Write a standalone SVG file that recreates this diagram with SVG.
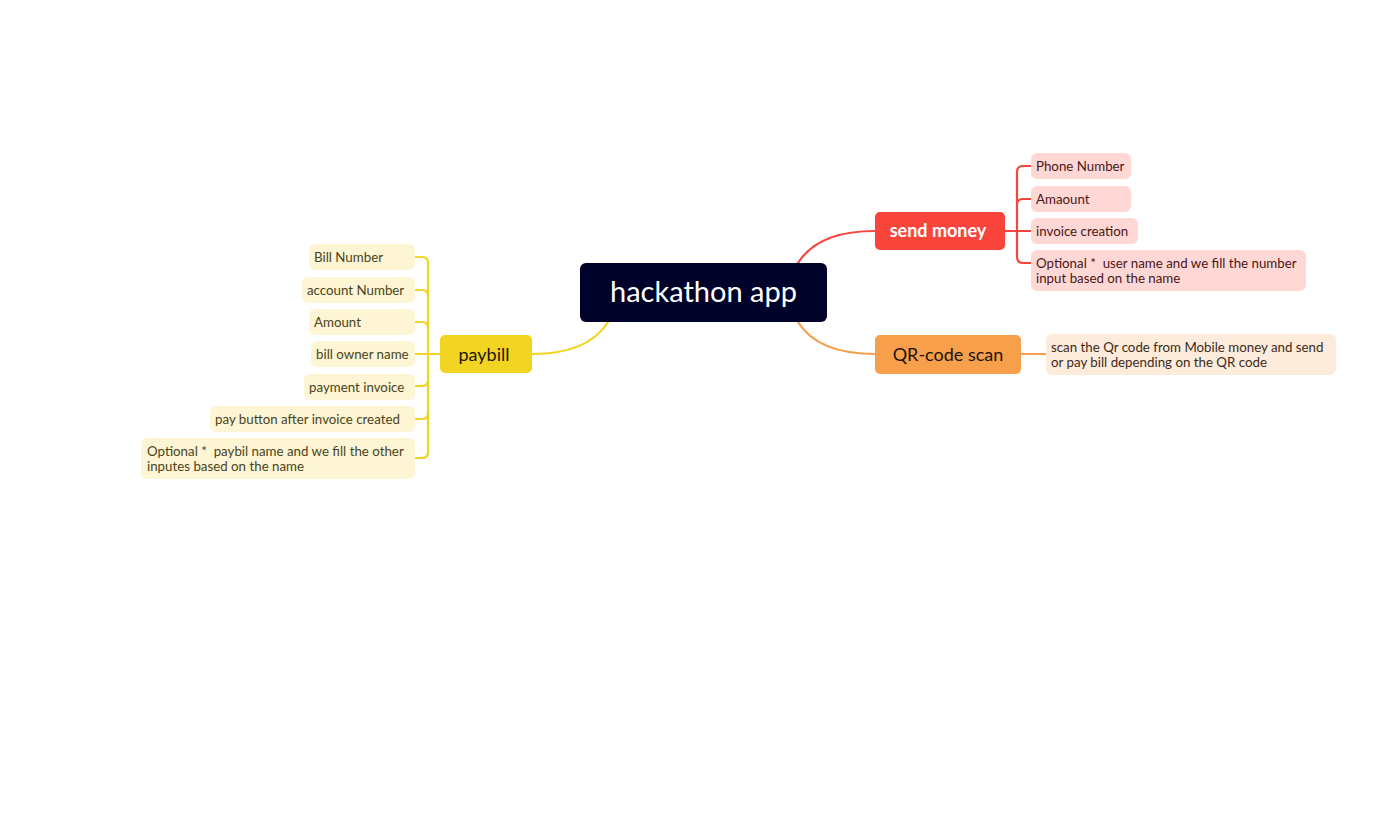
<svg xmlns="http://www.w3.org/2000/svg" width="1376" height="814" viewBox="0 0 1376 814">
<style>
text{font-family:Lato,"Noto Sans","Liberation Sans",sans-serif;white-space:pre}
.c{fill:none;stroke-width:2.2;stroke-linecap:round}
.r{stroke:#F7463E}.o{stroke:#F79E4C}.y{stroke:#F2D523}
.sub{font-size:13.3px}
.rs rect{fill:#FFD8D6}.rs text{fill:#4A1515}
.ys rect{fill:#FDF5D3}.ys text{fill:#4A4320}
.os rect{fill:#FDEBDC}.os text{fill:#3D2A1A}
.b{font-size:18px;text-anchor:middle}
</style>
<rect width="1376" height="814" fill="#fff"/>
<g id="connectors">
<path class="c r" d="M798,263 Q818,231 875,231"/>
<path class="c o" d="M798,322 Q818,354 875,354"/>
<path class="c y" d="M608,322 Q588,354 532,354"/>
<path class="c r" d="M1005,231 H1031 M1031,166 H1023 Q1017,166 1017,172 V257 Q1017,263 1023,263 H1031 M1017,205 Q1017,199 1023,199 H1031"/>
<path class="c o" d="M1021,354 H1046"/>
<path class="c y" d="M440,354 H415 M415,257 H422 Q428,257 428,263 V452 Q428,458 422,458 H415 M415,290 H422 Q428,290 428,296 M415,322 H422 Q428,322 428,328 M415,386 H422 Q428,386 428,380 M415,419 H422 Q428,419 428,413"/>
</g>
<g id="root"><rect x="580" y="263" width="247" height="59" rx="6" fill="#00022A"/><text x="703.5" y="302" font-size="29" fill="#fff" text-anchor="middle">hackathon app</text></g>
<g id="send-money"><rect x="875" y="212" width="130" height="38" rx="5" fill="#F9443C"/><text class="b" x="938" y="237" fill="#fff" font-weight="700" font-size="17">send money</text></g>
<g id="qr-code-scan"><rect x="875" y="335" width="146" height="39" rx="5" fill="#F79F4B"/><text class="b" x="948" y="361" fill="#1A1208">QR-code scan</text></g>
<g id="paybill"><rect x="440" y="335" width="92" height="38" rx="5" fill="#F2D422"/><text class="b" x="484" y="361" fill="#1A1600">paybill</text></g>
<g id="phone-number" class="rs"><rect x="1031" y="153" width="100" height="26" rx="6"/><text class="sub" x="1036" y="171">Phone Number</text></g>
<g id="amaount" class="rs"><rect x="1031" y="186" width="100" height="26" rx="6"/><text class="sub" x="1036" y="204">Amaount</text></g>
<g id="invoice-creation" class="rs"><rect x="1031" y="218" width="107" height="26" rx="6"/><text class="sub" x="1036" y="236">invoice creation</text></g>
<g id="optional-send" class="rs"><rect x="1031" y="250" width="275" height="41" rx="6"/><text class="sub" x="1036" y="268">Optional *  user name and we fill the number</text><text class="sub" x="1036" y="283">input based on the name</text></g>
<g id="qr-detail" class="os"><rect x="1046" y="334" width="290" height="41" rx="6"/><text class="sub" x="1051" y="352">scan the Qr code from Mobile money and send</text><text class="sub" x="1051" y="367">or pay bill depending on the QR code</text></g>
<g id="bill-number" class="ys"><rect x="309" y="244" width="106" height="26" rx="6"/><text class="sub" x="314" y="262">Bill Number</text></g>
<g id="account-number" class="ys"><rect x="302" y="277" width="113" height="26" rx="6"/><text class="sub" x="307" y="295">account Number</text></g>
<g id="amount" class="ys"><rect x="309" y="309" width="106" height="26" rx="6"/><text class="sub" x="314" y="327">Amount</text></g>
<g id="bill-owner-name" class="ys"><rect x="311" y="341" width="104" height="26" rx="6"/><text class="sub" x="316" y="359">bill owner name</text></g>
<g id="payment-invoice" class="ys"><rect x="304" y="374" width="111" height="26" rx="6"/><text class="sub" x="309" y="392">payment invoice</text></g>
<g id="pay-button" class="ys"><rect x="210" y="406" width="205" height="26" rx="6"/><text class="sub" x="215" y="424">pay button after invoice created</text></g>
<g id="optional-paybill" class="ys"><rect x="141" y="438" width="274" height="41" rx="6"/><text class="sub" x="147" y="456">Optional *  paybil name and we fill the other</text><text class="sub" x="147" y="471">inputes based on the name</text></g>
</svg>
